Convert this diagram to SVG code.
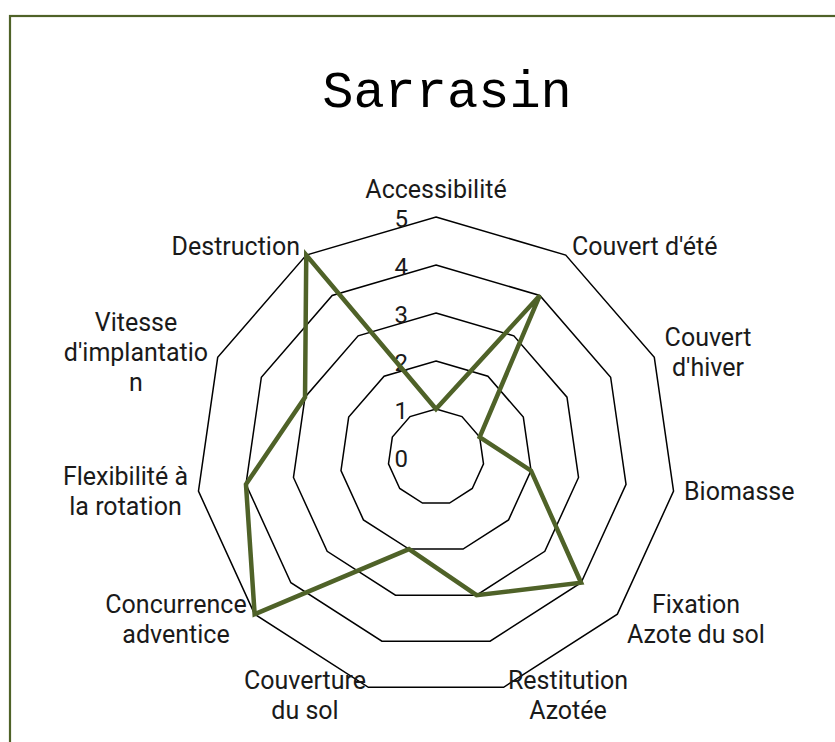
<svg xmlns="http://www.w3.org/2000/svg" width="835" height="742" viewBox="0 0 835 742">
  <style>
    .grid { fill: none; stroke: #000000; stroke-width: 1.5; stroke-linejoin: miter; }
    .lbl { font-family: Roboto, "Liberation Sans", sans-serif; font-size: 25px; fill: #1a1a1a; }
    .mid { text-anchor: middle; }
    .end { text-anchor: end; }
    .tick { font-family: Roboto, "Liberation Sans", sans-serif; font-size: 24px; fill: #1a1a1a; text-anchor: end; }
    .data { fill: none; stroke: #4F6228; stroke-width: 4.5; stroke-linejoin: miter; }
  </style>
  <rect x="0" y="0" width="835" height="742" fill="#ffffff"/>
  <rect id="frame" x="10" y="16" width="840" height="740" fill="#ffffff" stroke="#4F6228" stroke-width="2.2"/>

  <text id="title" x="447" y="107" text-anchor="middle" font-family="'Liberation Mono', 'DejaVu Sans Mono', monospace" font-size="52" fill="#000000">Sarrasin</text>

  <g id="grid">
    <polygon class="grid" points="436,409 461.95,416.62 479.66,437.06 483.51,463.83 472.27,488.44 449.52,503.06 422.48,503.06 399.73,488.44 388.49,463.83 392.34,437.06 410.05,416.62"/>
    <polygon class="grid" points="436,361 487.90,376.23 523.32,417.12 531.02,470.66 508.55,519.87 463.04,549.11 408.96,549.11 363.45,519.87 340.98,470.66 348.68,417.12 384.10,376.23"/>
    <polygon class="grid" points="436,313 513.85,335.85 566.98,397.18 578.53,477.49 544.82,551.31 476.56,595.17 395.44,595.17 327.18,551.31 293.47,477.49 305.02,397.18 358.15,335.85"/>
    <polygon class="grid" points="436,265 539.80,295.47 610.64,377.24 626.04,484.32 581.09,582.74 490.09,641.22 381.91,641.22 290.91,582.74 245.96,484.32 261.36,377.24 332.20,295.47"/>
    <polygon class="grid" points="436,217 565.74,255.09 654.30,357.30 673.55,491.15 617.37,614.18 503.61,687.28 368.39,687.28 254.63,614.18 198.45,491.15 217.70,357.30 306.26,255.09"/>
  </g>

  <g id="ticks">
    <text class="tick" x="408" y="467">0</text>
    <text class="tick" x="408" y="419">1</text>
    <text class="tick" x="408" y="371">2</text>
    <text class="tick" x="408" y="323">3</text>
    <text class="tick" x="408" y="275">4</text>
    <text class="tick" x="408" y="227">5</text>
  </g>

  <g id="series">
    <polygon class="data" points="436,409 539.80,295.47 479.66,437.06 531.02,470.66 581.09,582.74 476.56,595.17 408.96,549.11 254.63,614.18 245.96,484.32 305.02,397.18 306.26,255.09"/>
  </g>

  <g id="label-accessibilite"><text class="lbl mid" x="436" y="198">Accessibilité</text></g>
  <g id="label-couvert-ete"><text class="lbl" x="572" y="255">Couvert d'été</text></g>
  <g id="label-couvert-hiver">
    <text class="lbl mid" x="708" y="346">Couvert</text>
    <text class="lbl mid" x="708" y="376">d'hiver</text>
  </g>
  <g id="label-biomasse"><text class="lbl" x="684" y="500">Biomasse</text></g>
  <g id="label-fixation">
    <text class="lbl mid" x="696" y="613">Fixation</text>
    <text class="lbl mid" x="696" y="643">Azote du sol</text>
  </g>
  <g id="label-restitution">
    <text class="lbl mid" x="568" y="689">Restitution</text>
    <text class="lbl mid" x="568" y="719">Azotée</text>
  </g>
  <g id="label-couverture">
    <text class="lbl mid" x="305" y="689">Couverture</text>
    <text class="lbl mid" x="305" y="719">du sol</text>
  </g>
  <g id="label-concurrence">
    <text class="lbl mid" x="176" y="613">Concurrence</text>
    <text class="lbl mid" x="176" y="643">adventice</text>
  </g>
  <g id="label-flexibilite">
    <text class="lbl mid" x="125.5" y="485">Flexibilité à</text>
    <text class="lbl mid" x="125.5" y="515">la rotation</text>
  </g>
  <g id="label-vitesse">
    <text class="lbl mid" x="136" y="331">Vitesse</text>
    <text class="lbl mid" x="136" y="361">d'implantatio</text>
    <text class="lbl mid" x="136" y="391">n</text>
  </g>
  <g id="label-destruction"><text class="lbl end" x="300" y="255">Destruction</text></g>
</svg>
